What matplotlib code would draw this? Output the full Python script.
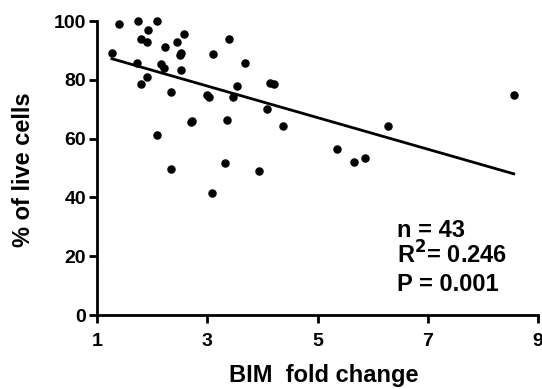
import numpy as np
import matplotlib
matplotlib.use("Agg")
import matplotlib.pyplot as plt

plt.rcParams['font.family'] = ['Liberation Sans', 'DejaVu Sans']
plt.rcParams['font.weight'] = 'bold'
plt.rcParams['mathtext.default'] = 'bf'

# BIM fold change vs % of live cells
bim_fold = [1.27, 1.40, 1.75, 2.08, 1.93, 1.79, 1.90, 2.57, 2.24, 2.46,
            3.40, 2.52, 2.51, 3.11, 3.69, 1.72, 2.16, 2.22, 2.52, 1.91,
            1.80, 2.34, 3.00, 3.03, 3.54, 3.47, 4.14, 4.21, 4.09, 2.71,
            2.72, 3.36, 2.09, 4.38, 5.35, 2.34, 3.32, 3.93, 3.08, 8.56,
            6.28, 5.66, 5.86]
live_cells = [89.0, 99.1, 100.0, 100.0, 97.0, 94.0, 93.0, 95.6, 91.3, 92.8,
              93.8, 89.2, 88.4, 88.7, 85.6, 85.6, 85.4, 83.9, 83.3, 80.8,
              78.6, 76.0, 74.8, 74.0, 77.8, 74.3, 78.9, 78.6, 70.0, 65.6,
              66.0, 66.2, 61.1, 64.3, 56.4, 49.8, 51.6, 48.9, 41.6, 74.7,
              64.2, 51.9, 53.3]

# regression line as drawn in the figure
slope = -5.37
intercept = 94.0

stats_text = ["n = 43", "R$^{2}$= 0.246", "P = 0.001"]

fig = plt.figure(figsize=(5.42, 3.89), dpi=100)
ax = fig.add_axes([0.179, 0.190, 0.8136, 0.756])

ax.scatter(bim_fold, live_cells, s=26, color="black", zorder=3, clip_on=False)
xfit = np.array([min(bim_fold), max(bim_fold)])
ax.plot(xfit, intercept + slope * xfit, color="black", lw=2.0)

ax.set_xlim(1, 9)
ax.set_ylim(0, 100)
ax.set_xticks([1, 3, 5, 7, 9])
ax.set_yticks([0, 20, 40, 60, 80, 100])

for side in ["top", "right"]:
    ax.spines[side].set_visible(False)
for side in ["left", "bottom"]:
    ax.spines[side].set_linewidth(2.0)
ax.tick_params(width=2.0, length=6, labelsize=14, pad=2)
ax.tick_params(axis="x", pad=7)

ax.set_xlabel("BIM  fold change", fontsize=17, fontweight="bold")
ax.xaxis.set_label_coords(0.515, -0.168)
ax.set_ylabel("% of live cells", fontsize=17, fontweight="bold")
ax.yaxis.set_label_coords(-0.141, 0.493)

for i, t in enumerate(stats_text):
    ax.text(397 / 542, (389 - 237 - 27 * i) / 389, t, transform=fig.transFigure,
            fontsize=17, fontweight="bold", va="baseline", ha="left")

fig.savefig("out.png", dpi=100)
